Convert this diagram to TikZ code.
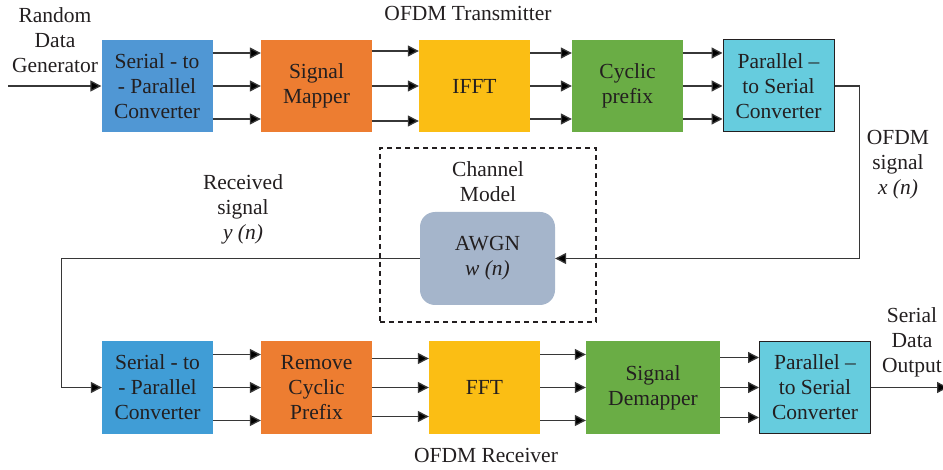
\documentclass[tikz,border=0pt]{standalone}
\usepackage{fontspec}
\setmainfont{Liberation Serif}
\usetikzlibrary{arrows.meta,positioning,calc}

\definecolor{cBlue}{RGB}{80,151,212}
\definecolor{cBlueR}{RGB}{64,157,214}
\definecolor{cOrange}{RGB}{237,125,49}
\definecolor{cYellow}{RGB}{251,190,20}
\definecolor{cGreen}{RGB}{106,173,69}
\definecolor{cCyan}{RGB}{102,204,222}
\definecolor{cAwgn}{RGB}{165,181,203}
\definecolor{cTxt}{RGB}{35,31,32}
\definecolor{cLine}{RGB}{55,55,55}

\begin{document}
\begin{tikzpicture}[x=1pt,y=-1pt,
    blk/.style={minimum width=111pt,minimum height=92pt,inner sep=0pt,align=center,
        text=cTxt,font=\fontsize{21.5}{25}\selectfont},
    arr/.style={draw=cLine,line width=1.3pt,-{Triangle[length=11pt,width=11pt,fill=black]}},
    lbl/.style={align=center,text=cTxt,font=\fontsize{21.5}{25}\selectfont}]
\useasboundingbox (0,0) rectangle (943,470);

%transmitter chain
\node[blk,fill=cBlue]   (spcT) at (157,86)   {Serial - to\\- Parallel\\Converter};
\node[blk,fill=cOrange] (mapT) at (316.5,86) {Signal\\Mapper};
\node[blk,fill=cYellow] (ifft) at (474.5,86) {IFFT};
\node[blk,fill=cGreen]  (cpT)  at (627.5,86) {Cyclic\\prefix};
\node[blk,fill=cCyan,draw=cTxt,line width=1pt] (pscT) at (778.5,86) {Parallel –\\to Serial\\Converter};

%receiver chain
\node[blk,fill=cBlueR]  (spcR) at (157.5,387.5) {Serial - to\\- Parallel\\Converter};
\node[blk,fill=cOrange] (rcp)  at (316.5,387.5) {Remove\\Cyclic\\Prefix};
\node[blk,fill=cYellow] (fft)  at (484.5,387.5) {FFT};
\node[blk,fill=cGreen,minimum width=134pt] (demap) at (653,387.5) {Signal\\Demapper};
\node[blk,fill=cCyan,draw=cTxt,line width=1pt] (pscR) at (815,387.5) {Parallel –\\to Serial\\Converter};

%channel
\node[draw=cTxt,dashed,dash pattern=on 5pt off 4pt,line width=1.1pt,
    minimum width=216pt,minimum height=174pt] (chanbox) at (488,235) {};
\node[blk,fill=cAwgn,rounded corners=15pt,minimum width=135pt,minimum height=93pt]
    (awgn) at (487.5,258.5) {AWGN\\\textit{w (n)}};

%labels
\node[lbl] (srcLbl)  at (55,40)   {Random\\Data\\Generator};
\node[lbl] (txLbl)   at (468,13)  {OFDM Transmitter};
\node[lbl] (chLbl)   at (488,182) {Channel\\Model};
\node[lbl] (xLbl)    at (898,165) {OFDM\\signal\\\textit{x (n)}};
\node[lbl] (yLbl)    at (243,209) {Received\\signal\\\textit{y (n)}};
\node[lbl] (outLbl)  at (912,342) {Serial\\Data\\Output};
\node[lbl] (rxLbl)   at (486,455) {OFDM Receiver};

%parallel arrows
\foreach \a/\b/\d in {spcT/mapT/33, mapT/ifft/35, ifft/cpT/33, cpT/pscT/33,
                      spcR/rcp/33, rcp/fft/29, fft/demap/33, demap/pscR/30}
{
    \foreach \s in {1,0,-1}
        \draw[arr] ([yshift=\s*\d pt]\a.east) -- ([yshift=\s*\d pt]\b.west);
};

%serial connections
\coordinate (srcIn) at (8,86);
\coordinate (sinkOut) at (948,387.5);
\draw[arr] (srcIn) -- (spcT.west);
\draw[arr] (pscT.east) -- ++(25,0) |- (awgn.east);
\draw[arr] (awgn.west) -| ([xshift=-40pt]spcR.west) -- (spcR.west);
\draw[arr] (pscR.east) -- (sinkOut);
\end{tikzpicture}
\end{document}
